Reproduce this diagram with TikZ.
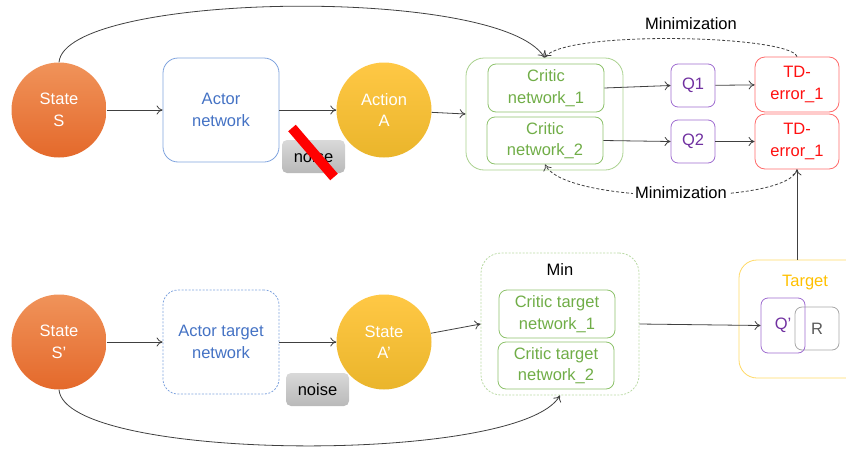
\documentclass[tikz,border=0pt]{standalone}
\usepackage{fontspec}
\setmainfont{Liberation Sans}
\usetikzlibrary{arrows.meta,calc}
\definecolor{orTop}{HTML}{F0935A}
\definecolor{orBot}{HTML}{E4692B}
\definecolor{yeTop}{HTML}{FFC845}
\definecolor{yeBot}{HTML}{EAB52B}
\definecolor{bluB}{HTML}{7FA3DE}
\definecolor{bluT}{HTML}{4472C4}
\definecolor{grnO}{HTML}{A9D18E}
\definecolor{grnI}{HTML}{8DC26B}
\definecolor{grnT}{HTML}{70AD47}
\definecolor{purB}{HTML}{9E6BD0}
\definecolor{purT}{HTML}{7030A0}
\definecolor{redB}{HTML}{FF6B6B}
\definecolor{redT}{HTML}{FF1010}
\definecolor{tgtB}{HTML}{FFD966}
\definecolor{tgtT}{HTML}{FFC000}
\definecolor{gryB}{HTML}{A6A6A6}
\definecolor{gryT}{HTML}{595959}
\definecolor{lineC}{HTML}{404040}
\tikzset{
  txt/.style={font=\fontsize{16.5}{21.5}\selectfont, align=center, inner sep=0pt},
  circ/.style={txt, circle, minimum size=95pt, text=white, draw=none},
  orangec/.style={circ, top color=orTop, bottom color=orBot},
  yellowc/.style={circ, top color=yeTop, bottom color=yeBot},
  actorbox/.style={txt, draw=bluB, text=bluT, rounded corners=15pt, minimum width=116pt, minimum height=104pt, line width=0.8pt},
  outerbox/.style={draw=grnO, rounded corners=18pt, line width=0.8pt, inner sep=0pt},
  critbox/.style={txt, draw=grnI, text=grnT, rounded corners=8pt, minimum width=116pt, minimum height=47pt, line width=0.8pt},
  qbox/.style={txt, draw=purB, text=purT, rounded corners=7pt, minimum width=44pt, minimum height=43pt, line width=0.8pt},
  tdbox/.style={txt, draw=redB, text=redT, rounded corners=10pt, minimum width=84pt, minimum height=55pt, line width=0.8pt},
  noisebox/.style={txt, top color=gray!30, bottom color=gray!55, draw=none, rounded corners=5pt, minimum width=63pt, minimum height=33pt, text=black},
  arr/.style={draw=lineC, line width=0.8pt, -{To[length=6pt,width=9pt]}},
  darr/.style={arr, dashed, dash pattern=on 3pt off 2pt}
}
\begin{document}
\begin{tikzpicture}[x=1pt,y=-1pt]
\useasboundingbox (0,0) rectangle (846,450);
% top row
\node[orangec] (S) at (59,110) {State\\S};
\node[actorbox] (Actor) at (221,110) {Actor\\network};
\node[yellowc] (A) at (384,110) {Action\\A};
\node[noisebox] (N1) at (313.5,156.5) {noise};
\draw[red, line width=10pt] (292,128) -- (334,177);
\node[outerbox, minimum width=157pt, minimum height=112pt] (Crit) at (544.5,114) {};
\node[critbox, minimum height=48pt] (CN1) at (546,88) {Critic\\network\_1};
\node[critbox] (CN2) at (545,140.5) {Critic\\network\_2};
\node[qbox] (Q1) at (693,85.5) {Q1};
\node[qbox] (Q2) at (693,141.5) {Q2};
\node[tdbox] (TD1) at (797,84.5) {TD-\\error\_1};
\node[tdbox] (TD2) at (797,141.5) {TD-\\error\_1};
% bottom row
\node[orangec] (S2) at (59,342) {State\\S'};
\node[actorbox, dashed, dash pattern=on 2pt off 1.5pt] (AT) at (221,342) {Actor target\\network};
\node[yellowc] (A2) at (384,342) {State\\A'};
\node[noisebox] (N2) at (317.5,389.5) {noise};
\node[outerbox, draw=grnO!80, dashed, dash pattern=on 2pt off 1.5pt, rounded corners=20pt, minimum width=158pt, minimum height=142pt] (Min) at (560,324) {};
\node[txt, text=black] (MinL) at (560,270) {Min};
\node[critbox, minimum height=48pt] (CT1) at (557,314) {Critic target\\network\_1};
\node[critbox] (CT2) at (556,365.5) {Critic target\\network\_2};
\node[draw=tgtB, rounded corners=18pt, line width=0.8pt, minimum width=135pt, minimum height=118pt, inner sep=0pt] (Tgt) at (806.5,319) {};
\node[txt, text=tgtT] (TgtL) at (805,283) {Target};
\node[txt, draw=gryB, text=gryT, rounded corners=7pt, minimum width=44pt, minimum height=43pt, line width=0.8pt] (R) at (817,328.5) {R};
\node[qbox, minimum height=55pt] (Qp) at (783,325.5) {Q'};
% connectors top
\draw[arr] (S) -- (Actor);
\draw[arr] (Actor) -- (A);
\draw[arr] (A) -- (Crit.west);
\draw[arr] (CN1.east) -- (Q1.west);
\draw[arr] (CN2.east) -- (Q2.west);
\draw[arr] (Q1) -- (TD1);
\draw[arr] (Q2) -- (TD2);
\draw[arr] (S.north) .. controls (65,-8) and (500,-15) .. (Crit.north);
\draw[darr] (TD1.north) .. controls (790,35) and (565,30) .. (Crit.north);
\draw[darr] (TD2.south) .. controls (790,205) and (565,205) .. (CN2.south);
\node[txt, text=black] (M1) at (691,24) {Minimization};
\node[txt, text=black, fill=white, inner sep=2pt] (M2) at (681,193) {Minimization};
% connectors bottom
\draw[arr] (S2) -- (AT);
\draw[arr] (AT) -- (A2);
\draw[arr] (A2) -- (Min.west);
\draw[arr] (Min.east) -- (Qp.west);
\draw[arr] (S2.south) .. controls (65,462) and (520,465) .. (Min.south);
\draw[arr] (Tgt.north -| TD2.south) -- (TD2.south);
\end{tikzpicture}
\end{document}
